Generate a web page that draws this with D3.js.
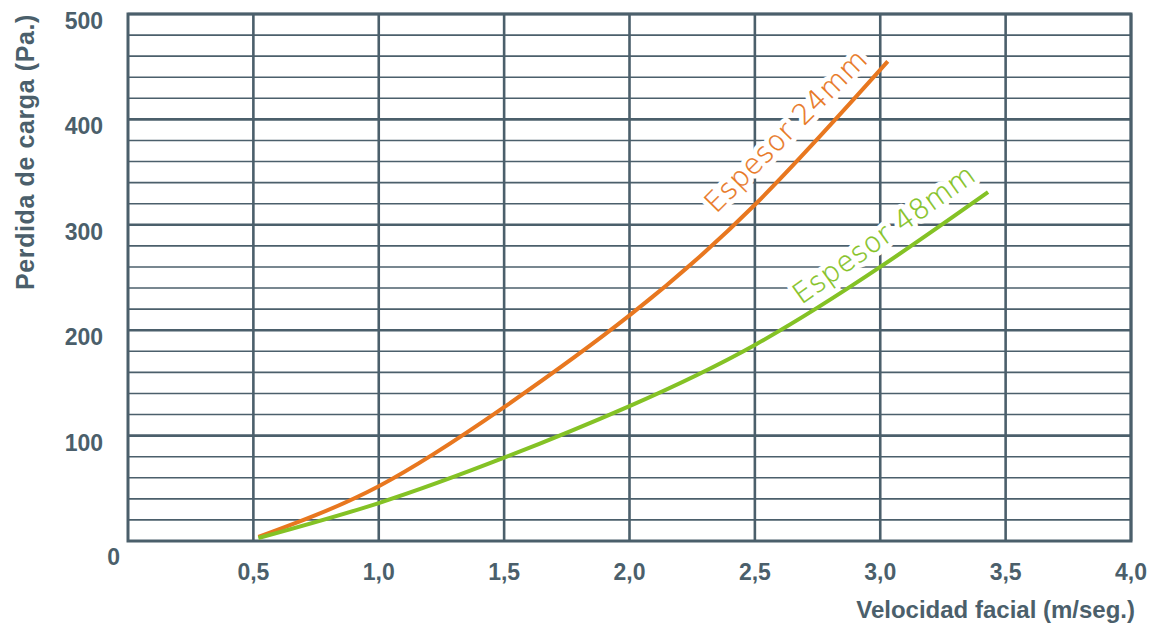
<!DOCTYPE html>
<html lang="es">
<head>
  <meta charset="UTF-8" />
  <title>Perdida de carga</title>
  <style>
    body { margin: 0; background: #fff; }
    svg { display: block; }
    .tick-label { font-family: "Liberation Sans", Arial, sans-serif; font-weight: bold; font-size: 23px; fill: #4b5f6b; }
    .axis-title { font-family: "Liberation Sans", Arial, sans-serif; font-weight: bold; font-size: 24px; fill: #4b5f6b; }
    .curve-label { font-family: "DejaVu Sans", sans-serif; font-weight: 200; font-size: 28px; letter-spacing: 0.6px; }
    .halo { fill: #fff; stroke: #fff; stroke-width: 10px; stroke-linejoin: round; }
  </style>
</head>
<body>
<div id="chart"></div>
<script src="https://d3js.org/d3.v7.min.js"></script>
<script>
  // ticks
  const xTicks = [0.5, 1.0, 1.5, 2.0, 2.5, 3.0, 3.5, 4.0];
  const yTicks = [100, 200, 300, 400, 500];
  const yMinor = d3.range(20, 500, 20);

  // Espesor 24mm
  const speed24 = [0.52, 1.0, 1.5, 2.0, 2.5, 3.03];
  const loss24  = [3.8, 52, 127, 214, 319, 455];
  // Espesor 48mm
  const speed48 = [0.52, 1.0, 1.5, 2.0, 2.5, 3.0, 3.43];
  const loss48  = [2.8, 36, 79, 128, 186, 260, 331];

  // curve labels (anchored in data units)
  const labelText  = ['Espesor 24mm', 'Espesor 48mm'];
  const labelSpeed = [2.345, 2.685];
  const labelLoss  = [310, 224];
  const labelAngle = [-45, -35.5];

  const colors = ['#e8771f', '#84c225'];
  const ink = '#4b5f6b';

  const W = 1149, H = 626;
  const x = d3.scaleLinear().domain([0, 4]).range([128, 1131]);
  const y = d3.scaleLinear().domain([0, 500]).range([541, 14]);

  const svg = d3.select('#chart').append('svg').attr('width', W).attr('height', H);

  // grid
  const grid = svg.append('g');
  grid.selectAll('.minor').data(yMinor.filter(v => v % 100 !== 0)).join('line')
      .attr('x1', x(0)).attr('x2', x(4)).attr('y1', d => y(d)).attr('y2', d => y(d))
      .attr('stroke', ink).attr('stroke-width', 1.6);
  grid.selectAll('.major').data(yTicks).join('line')
      .attr('x1', x(0)).attr('x2', x(4)).attr('y1', d => y(d)).attr('y2', d => y(d))
      .attr('stroke', ink).attr('stroke-width', 2.6);
  grid.selectAll('.vert').data(xTicks).join('line')
      .attr('x1', d => x(d)).attr('x2', d => x(d)).attr('y1', y(0)).attr('y2', y(500))
      .attr('stroke', ink).attr('stroke-width', 2.6);
  grid.append('rect')
      .attr('x', x(0)).attr('y', y(500)).attr('width', x(4) - x(0)).attr('height', y(0) - y(500))
      .attr('fill', 'none').attr('stroke', ink).attr('stroke-width', 3);

  // curve labels with white halo
  labelText.forEach((t, i) => {
    const tr = `translate(${x(labelSpeed[i])},${y(labelLoss[i])}) rotate(${labelAngle[i]})`;
    svg.append('text').attr('class', 'curve-label halo').attr('transform', tr).text(t);
    svg.append('text').attr('class', 'curve-label').attr('transform', tr)
       .attr('fill', colors[i]).attr('stroke', colors[i]).attr('stroke-width', 0.3)
       .text(t);
  });

  // curves
  const line = d3.line().x(d => x(d[0])).y(d => y(d[1])).curve(d3.curveNatural);
  [[speed24, loss24], [speed48, loss48]].forEach(([sx, sy], i) => {
    svg.append('path').datum(d3.zip(sx, sy))
       .attr('fill', 'none').attr('stroke', colors[i]).attr('stroke-width', 4)
       .attr('d', line);
  });

  // tick labels
  svg.selectAll('.xl').data(xTicks).join('text').attr('class', 'tick-label')
     .attr('x', d => x(d)).attr('y', y(0) + 39).attr('text-anchor', 'middle')
     .text(d => d3.format('.1f')(d).replace('.', ','));
  svg.selectAll('.yl').data(yTicks).join('text').attr('class', 'tick-label')
     .attr('x', 103).attr('y', d => y(d) + 15).attr('text-anchor', 'end')
     .text(d => d);
  svg.append('text').attr('class', 'tick-label')
     .attr('x', x(0) - 8).attr('y', y(0) + 24).attr('text-anchor', 'end').text('0');

  // axis titles
  svg.append('text').attr('class', 'axis-title')
     .attr('x', 1135).attr('y', 618).attr('text-anchor', 'end')
     .text('Velocidad facial (m/seg.)');
  svg.append('text').attr('class', 'axis-title')
     .style('font-size', '25px').style('letter-spacing', '0.6px')
     .attr('transform', 'translate(34,152) rotate(-90)').attr('text-anchor', 'middle')
     .text('Perdida de carga (Pa.)');
</script>
</body>
</html>
